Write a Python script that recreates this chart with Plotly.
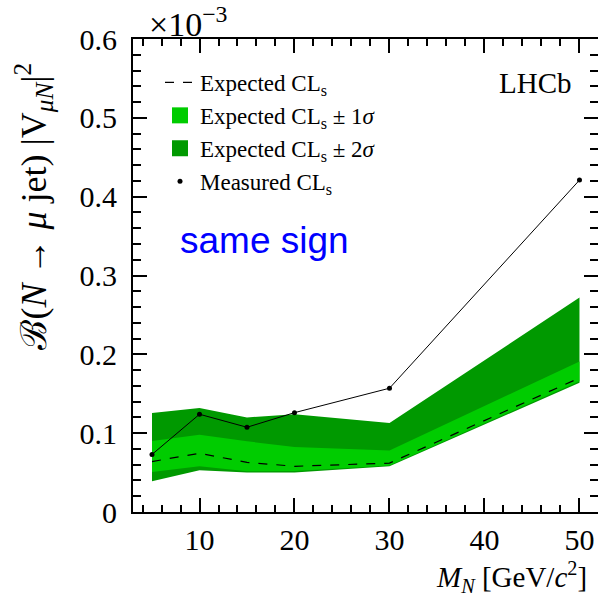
import plotly.graph_objects as go

# Data (values in units of 1e-3)
mass = [5, 10, 15, 20, 30, 50]
measured = [0.073, 0.124, 0.1075, 0.126, 0.157, 0.421]
expected = [0.064, 0.0745, 0.063, 0.058, 0.062, 0.170]
up1 = [0.090, 0.098, 0.0897, 0.0825, 0.078, 0.191]
lo1 = [0.0508, 0.058, 0.0516, 0.052, 0.059, 0.166]
up2 = [0.1256, 0.132, 0.120, 0.124, 0.113, 0.272]
lo2 = [0.039, 0.053, 0.050, 0.050, 0.058, 0.164]

xticks = [10, 20, 30, 40, 50]
yticks = [0, 0.1, 0.2, 0.3, 0.4, 0.5, 0.6]
ytick_text = ["0", "0.1", "0.2", "0.3", "0.4", "0.5", "0.6"]

SERIF = "Liberation Serif"
LIGHT = "#00CC00"
DARK = "#009900"

fig = go.Figure()

# bands (drawn from data, legend via proxies)
fig.add_trace(go.Scatter(
    x=mass + mass[::-1], y=up2 + lo2[::-1], fill="toself", fillcolor=DARK,
    line=dict(width=0, color=DARK), mode="lines", hoverinfo="skip", showlegend=False))
fig.add_trace(go.Scatter(
    x=mass + mass[::-1], y=up1 + lo1[::-1], fill="toself", fillcolor=LIGHT,
    line=dict(width=0, color=LIGHT), mode="lines", hoverinfo="skip", showlegend=False))
fig.add_trace(go.Scatter(
    x=mass, y=expected, mode="lines",
    line=dict(color="black", width=1.2, dash="dash"),
    name="Expected CL<sub>s</sub>", legendrank=1))
fig.add_trace(go.Scatter(
    x=mass, y=measured, mode="lines",
    line=dict(color="black", width=1), showlegend=False))
fig.add_trace(go.Scatter(
    x=mass, y=measured, mode="markers",
    marker=dict(color="black", size=5),
    name="Measured CL<sub>s</sub>", legendrank=4))

# legend proxies for the bands
fig.add_trace(go.Scatter(
    x=[None], y=[None], mode="markers",
    marker=dict(symbol="square", color=LIGHT, size=16),
    name="Expected CL<sub>s</sub> ± 1<i>σ</i>", legendrank=2))
fig.add_trace(go.Scatter(
    x=[None], y=[None], mode="markers",
    marker=dict(symbol="square", color=DARK, size=16),
    name="Expected CL<sub>s</sub> ± 2<i>σ</i>", legendrank=3))

axis_common = dict(
    showline=True, linecolor="black", linewidth=2, mirror="ticks",
    ticks="inside", ticklen=14, tickwidth=1.5, tickcolor="black",
    showgrid=False, zeroline=False, automargin=False,
    tickfont=dict(family=SERIF, size=30, color="black"),
)

fig.update_xaxes(
    range=[3, 51.95], tickvals=xticks, ticklabelstandoff=0,
    minor=dict(ticks="inside", ticklen=7, tickwidth=1.5, tickcolor="black", dtick=2, showgrid=False),
    **axis_common)
fig.update_yaxes(
    range=[0, 0.6], tickvals=yticks, ticktext=ytick_text, ticklabelstandoff=8,
    minor=dict(ticks="inside", ticklen=8, tickwidth=1.5, tickcolor="black", dtick=0.02, showgrid=False),
    **axis_common)

L, R, T, B = 133, 0, 39, 86
PW, PH = 598 - L - R, 598 - T - B


def px(xpix):
    return (xpix - L) / PW


def py(ypix):
    return (598 - B - ypix) / PH


fig.update_layout(
    width=598, height=598,
    margin=dict(l=L, r=R, t=T, b=B),
    plot_bgcolor="white", paper_bgcolor="white",
    legend=dict(x=px(160), y=py(61), xanchor="left", yanchor="top",
                bgcolor="rgba(0,0,0,0)", font=dict(family=SERIF, size=23, color="black"),
                tracegroupgap=0, itemwidth=30, itemsizing="trace"),
    showlegend=True,
    annotations=[
        dict(text="×10<sup>−3</sup>", x=px(147), y=py(22), xref="paper", yref="paper",
             xanchor="left", yanchor="middle",
             showarrow=False, font=dict(family=SERIF, size=34, color="black")),
        dict(text="LHCb", x=px(574), y=py(83), xref="paper", yref="paper", xanchor="right",
             yanchor="middle", showarrow=False, font=dict(family=SERIF, size=29, color="black")),
        dict(text="same sign", x=px(178), y=py(240), xref="paper", yref="paper", xanchor="left",
             yanchor="middle", showarrow=False,
             font=dict(family="Liberation Sans", size=37, color="#0000FF")),
        dict(text="ℬ(<i>N</i> → <i>μ</i> jet) |V<sub><i>μN</i></sub>|<sup>2</sup>",
             x=px(33), y=py(61), xref="paper", yref="paper", xanchor="center", yanchor="top",
             textangle=-90, showarrow=False, font=dict(family=SERIF, size=36, color="black")),
        dict(text="<i>M<sub>N</sub></i> [GeV/<i>c</i><sup>2</sup>]", x=px(589), y=py(577),
             xref="paper", yref="paper", xanchor="right", yanchor="middle",
             showarrow=False, font=dict(family=SERIF, size=29, color="black")),
    ],
)

fig.write_html("out.html", config={"displayModeBar": False},
               post_script="document.body.style.margin='0';")
